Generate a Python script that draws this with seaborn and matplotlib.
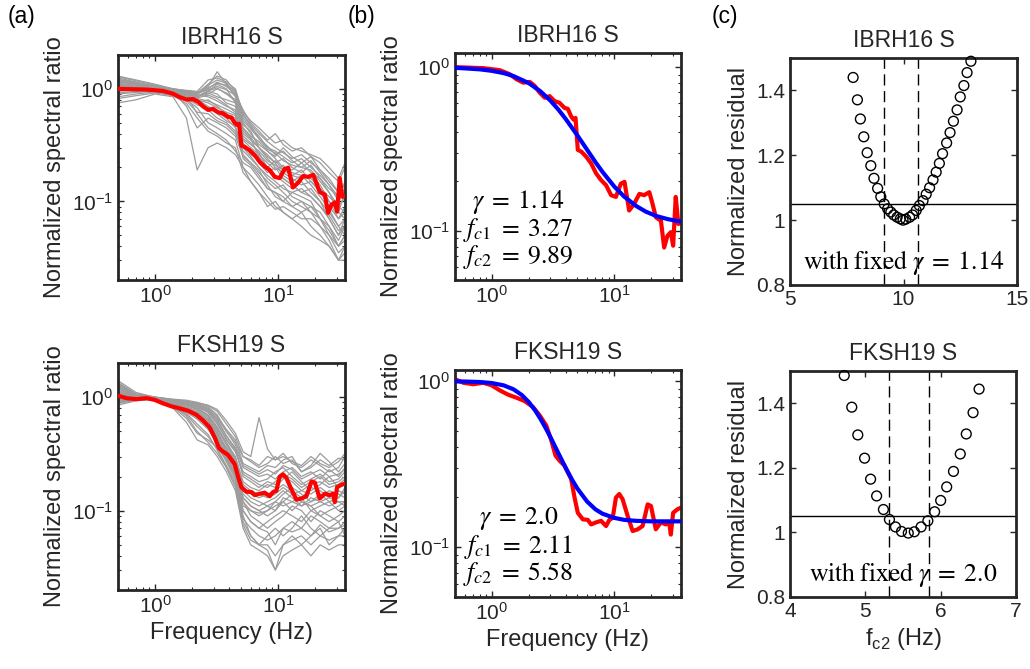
import numpy as np
import pandas as pd
import matplotlib
matplotlib.use("Agg")
import matplotlib.pyplot as plt
import seaborn as sns
from matplotlib.ticker import NullFormatter, LogLocator

sns.set_style("ticks")
plt.rcParams["font.family"] = ["Liberation Sans", "DejaVu Sans"]
plt.rcParams["mathtext.fontset"] = "dejavusans"
plt.rcParams["axes.unicode_minus"] = False

# ---------------- data ----------------
titles = ["IBRH16 S", "FKSH19 S"]
panel_labels = ["(a)", "(b)", "(c)"]

# common frequency grid of the individual (gray) spectral ratios
gray_freq = [0.5, 0.7, 1.0, 1.4, 1.8, 2.2, 2.7, 3.2, 3.8, 4.5, 5.2, 6.0, 7.0, 8.2,
             9.5, 11, 13, 15.5, 18.5, 22, 26, 31, 35]

gray_ibrh = [
    [1.25, 1.15, 1.05, 0.98, 0.95, 0.92, 1.10, 1.30, 1.20, 0.95, 0.55, 0.45, 0.38, 0.30, 0.28, 0.25, 0.22, 0.24, 0.20, 0.17, 0.14, 0.10, 0.12],
    [1.10, 1.05, 1.00, 0.95, 0.90, 0.85, 0.95, 0.90, 0.75, 0.70, 0.40, 0.35, 0.30, 0.26, 0.22, 0.24, 0.20, 0.18, 0.21, 0.16, 0.12, 0.08, 0.07],
    [0.95, 0.98, 0.97, 0.92, 0.85, 0.80, 0.70, 0.62, 0.55, 0.45, 0.30, 0.25, 0.20, 0.16, 0.14, 0.12, 0.10, 0.09, 0.08, 0.07, 0.05, 0.04, 0.05],
    [0.75, 0.80, 0.90, 0.85, 0.55, 0.19, 0.30, 0.33, 0.30, 0.26, 0.20, 0.15, 0.12, 0.09, 0.10, 0.08, 0.07, 0.06, 0.05, 0.045, 0.04, 0.03, 0.035],
    [1.30, 1.20, 1.10, 1.00, 0.96, 0.93, 1.00, 1.15, 1.05, 0.90, 0.65, 0.50, 0.42, 0.35, 0.40, 0.32, 0.28, 0.30, 0.25, 0.22, 0.18, 0.15, 0.20],
    [1.05, 1.02, 0.98, 0.93, 0.88, 0.60, 0.45, 0.40, 0.35, 0.28, 0.22, 0.20, 0.16, 0.13, 0.12, 0.10, 0.09, 0.10, 0.08, 0.06, 0.05, 0.035, 0.04],
    [1.15, 1.10, 1.03, 0.97, 0.92, 0.88, 0.85, 0.78, 0.70, 0.65, 0.35, 0.30, 0.26, 0.22, 0.19, 0.21, 0.17, 0.19, 0.15, 0.12, 0.09, 0.07, 0.09],
    [0.90, 0.93, 0.95, 0.90, 0.82, 0.75, 0.80, 0.70, 0.60, 0.55, 0.32, 0.28, 0.22, 0.18, 0.20, 0.16, 0.14, 0.12, 0.13, 0.10, 0.08, 0.06, 0.05],
    [1.20, 1.12, 1.04, 0.99, 0.94, 0.90, 1.05, 1.42, 1.10, 0.85, 0.50, 0.40, 0.32, 0.28, 0.25, 0.30, 0.25, 0.22, 0.18, 0.16, 0.13, 0.11, 0.15],
    [1.00, 1.00, 0.98, 0.94, 0.70, 0.45, 0.55, 0.50, 0.45, 0.38, 0.25, 0.22, 0.18, 0.15, 0.13, 0.14, 0.11, 0.10, 0.09, 0.08, 0.06, 0.045, 0.06],
    [1.08, 1.04, 0.99, 0.96, 0.90, 0.86, 0.90, 1.00, 0.92, 0.80, 0.45, 0.38, 0.34, 0.28, 0.24, 0.20, 0.19, 0.22, 0.25, 0.19, 0.15, 0.12, 0.10],
    [0.85, 0.90, 0.94, 0.88, 0.80, 0.68, 0.50, 0.45, 0.40, 0.35, 0.20, 0.17, 0.14, 0.11, 0.09, 0.08, 0.07, 0.08, 0.06, 0.05, 0.04, 0.03, 0.03],
    [1.18, 1.10, 1.02, 0.96, 0.91, 0.87, 0.92, 0.85, 0.80, 0.75, 0.48, 0.42, 0.30, 0.24, 0.20, 0.18, 0.16, 0.14, 0.15, 0.13, 0.11, 0.09, 0.08],
    [1.02, 1.00, 0.97, 0.92, 0.86, 0.80, 0.75, 0.68, 0.62, 0.58, 0.38, 0.33, 0.27, 0.20, 0.17, 0.15, 0.13, 0.15, 0.12, 0.10, 0.07, 0.05, 0.07],
    [1.12, 1.08, 1.01, 0.95, 0.90, 0.85, 0.95, 1.10, 1.00, 0.75, 0.42, 0.36, 0.25, 0.20, 0.23, 0.19, 0.17, 0.16, 0.17, 0.14, 0.10, 0.08, 0.12],
    [0.98, 0.97, 0.96, 0.91, 0.84, 0.78, 0.65, 0.55, 0.50, 0.42, 0.26, 0.22, 0.19, 0.14, 0.11, 0.10, 0.12, 0.11, 0.10, 0.07, 0.06, 0.04, 0.05],
    [1.22, 1.14, 1.06, 1.00, 0.97, 0.95, 1.20, 1.25, 1.15, 1.00, 0.60, 0.48, 0.40, 0.34, 0.30, 0.27, 0.24, 0.26, 0.22, 0.19, 0.16, 0.12, 0.14],
    [0.92, 0.95, 0.96, 0.89, 0.78, 0.62, 0.60, 0.52, 0.48, 0.40, 0.28, 0.24, 0.20, 0.17, 0.15, 0.13, 0.12, 0.13, 0.11, 0.09, 0.07, 0.05, 0.06],
    [1.28, 1.18, 1.08, 1.00, 0.95, 0.91, 0.98, 1.05, 0.98, 0.88, 0.52, 0.44, 0.36, 0.31, 0.26, 0.28, 0.23, 0.20, 0.23, 0.18, 0.14, 0.11, 0.13],
    [0.82, 0.87, 0.92, 0.87, 0.74, 0.55, 0.42, 0.38, 0.33, 0.30, 0.18, 0.15, 0.12, 0.10, 0.085, 0.09, 0.08, 0.07, 0.07, 0.06, 0.045, 0.03, 0.04],
    [1.06, 1.03, 0.99, 0.94, 0.89, 0.83, 0.88, 0.82, 0.72, 0.62, 0.36, 0.32, 0.28, 0.23, 0.21, 0.19, 0.18, 0.17, 0.16, 0.13, 0.10, 0.07, 0.08],
    [1.16, 1.09, 1.02, 0.97, 0.93, 0.89, 1.08, 1.20, 1.12, 0.92, 0.62, 0.52, 0.45, 0.38, 0.33, 0.35, 0.30, 0.28, 0.26, 0.24, 0.20, 0.16, 0.22],
    [0.97, 0.97, 0.96, 0.90, 0.83, 0.72, 0.68, 0.60, 0.52, 0.47, 0.24, 0.21, 0.17, 0.13, 0.12, 0.11, 0.09, 0.08, 0.09, 0.07, 0.055, 0.04, 0.045],
    [1.10, 1.06, 1.00, 0.95, 0.90, 0.86, 0.96, 1.02, 0.90, 0.78, 0.44, 0.37, 0.30, 0.25, 0.22, 0.17, 0.15, 0.17, 0.14, 0.11, 0.085, 0.06, 0.07],
    [1.03, 1.01, 0.98, 0.93, 0.87, 0.82, 0.78, 0.72, 0.66, 0.60, 0.33, 0.26, 0.23, 0.19, 0.16, 0.16, 0.14, 0.12, 0.11, 0.09, 0.075, 0.055, 0.06],
    [1.20, 1.13, 1.05, 0.98, 0.93, 0.90, 1.02, 1.12, 1.08, 0.96, 0.58, 0.47, 0.36, 0.29, 0.27, 0.23, 0.21, 0.20, 0.19, 0.15, 0.12, 0.09, 0.11],
]

gray_fksh = [
    [1.40, 1.10, 1.00, 0.95, 0.92, 0.88, 0.82, 0.70, 0.50, 0.40, 0.30, 0.28, 0.25, 0.30, 0.28, 0.32, 0.26, 0.24, 0.28, 0.25, 0.22, 0.24, 0.30],
    [1.20, 1.02, 0.98, 0.92, 0.88, 0.82, 0.75, 0.60, 0.42, 0.33, 0.22, 0.20, 0.18, 0.19, 0.22, 0.24, 0.20, 0.17, 0.19, 0.21, 0.18, 0.19, 0.22],
    [0.90, 0.95, 0.97, 0.85, 0.70, 0.55, 0.45, 0.35, 0.25, 0.18, 0.10, 0.08, 0.07, 0.08, 0.09, 0.10, 0.09, 0.08, 0.10, 0.09, 0.08, 0.09, 0.10],
    [0.85, 0.93, 0.96, 0.80, 0.60, 0.42, 0.38, 0.30, 0.22, 0.15, 0.07, 0.05, 0.045, 0.04, 0.03, 0.05, 0.06, 0.05, 0.06, 0.07, 0.05, 0.06, 0.07],
    [1.30, 1.05, 1.00, 0.96, 0.94, 0.90, 0.85, 0.78, 0.62, 0.48, 0.33, 0.30, 0.66, 0.35, 0.28, 0.30, 0.27, 0.25, 0.30, 0.26, 0.24, 0.27, 0.32],
    [1.05, 0.98, 0.96, 0.88, 0.80, 0.72, 0.62, 0.45, 0.33, 0.26, 0.14, 0.12, 0.11, 0.12, 0.13, 0.15, 0.13, 0.11, 0.12, 0.14, 0.12, 0.13, 0.15],
    [0.95, 0.96, 0.97, 0.90, 0.82, 0.76, 0.66, 0.50, 0.35, 0.24, 0.12, 0.09, 0.08, 0.07, 0.08, 0.09, 0.11, 0.10, 0.08, 0.10, 0.09, 0.08, 0.09],
    [1.15, 1.00, 0.98, 0.93, 0.86, 0.80, 0.70, 0.55, 0.40, 0.30, 0.18, 0.16, 0.15, 0.17, 0.16, 0.19, 0.22, 0.18, 0.15, 0.17, 0.20, 0.16, 0.18],
    [1.00, 0.97, 0.96, 0.86, 0.74, 0.64, 0.52, 0.40, 0.28, 0.20, 0.09, 0.06, 0.05, 0.06, 0.07, 0.06, 0.07, 0.09, 0.07, 0.06, 0.07, 0.08, 0.06],
    [1.25, 1.03, 0.99, 0.94, 0.90, 0.86, 0.80, 0.68, 0.52, 0.42, 0.26, 0.24, 0.22, 0.25, 0.24, 0.28, 0.30, 0.22, 0.25, 0.32, 0.27, 0.22, 0.26],
    [0.92, 0.95, 0.96, 0.84, 0.68, 0.50, 0.40, 0.32, 0.24, 0.17, 0.08, 0.06, 0.05, 0.045, 0.03, 0.04, 0.045, 0.05, 0.04, 0.05, 0.045, 0.05, 0.05],
    [1.10, 0.99, 0.97, 0.91, 0.84, 0.78, 0.68, 0.52, 0.38, 0.28, 0.16, 0.14, 0.13, 0.14, 0.15, 0.17, 0.15, 0.13, 0.16, 0.15, 0.13, 0.15, 0.14],
    [0.98, 0.96, 0.97, 0.89, 0.78, 0.70, 0.58, 0.42, 0.30, 0.22, 0.11, 0.10, 0.09, 0.10, 0.11, 0.12, 0.10, 0.12, 0.11, 0.09, 0.10, 0.11, 0.12],
    [1.35, 1.07, 1.00, 0.95, 0.91, 0.87, 0.78, 0.62, 0.45, 0.36, 0.24, 0.22, 0.20, 0.21, 0.19, 0.22, 0.24, 0.20, 0.22, 0.19, 0.23, 0.20, 0.24],
    [0.88, 0.94, 0.96, 0.82, 0.65, 0.48, 0.42, 0.36, 0.28, 0.21, 0.13, 0.11, 0.10, 0.09, 0.10, 0.13, 0.12, 0.11, 0.13, 0.12, 0.11, 0.12, 0.11],
    [1.08, 0.98, 0.97, 0.90, 0.80, 0.74, 0.64, 0.48, 0.36, 0.27, 0.15, 0.13, 0.12, 0.11, 0.12, 0.14, 0.16, 0.14, 0.12, 0.13, 0.15, 0.14, 0.13],
    [1.28, 1.04, 0.99, 0.94, 0.89, 0.84, 0.76, 0.64, 0.46, 0.35, 0.20, 0.18, 0.16, 0.18, 0.17, 0.20, 0.18, 0.15, 0.17, 0.18, 0.16, 0.17, 0.19],
    [0.96, 0.95, 0.96, 0.87, 0.76, 0.66, 0.54, 0.38, 0.27, 0.19, 0.085, 0.07, 0.06, 0.055, 0.06, 0.07, 0.08, 0.07, 0.09, 0.08, 0.07, 0.07, 0.08],
    [1.18, 1.01, 0.98, 0.93, 0.87, 0.82, 0.73, 0.58, 0.43, 0.34, 0.21, 0.19, 0.17, 0.16, 0.18, 0.21, 0.19, 0.16, 0.18, 0.20, 0.17, 0.18, 0.20],
    [1.02, 0.97, 0.97, 0.88, 0.79, 0.71, 0.60, 0.44, 0.31, 0.23, 0.12, 0.10, 0.095, 0.10, 0.12, 0.11, 0.12, 0.13, 0.10, 0.11, 0.12, 0.10, 0.11],
    [1.32, 1.06, 1.00, 0.95, 0.92, 0.89, 0.84, 0.75, 0.58, 0.45, 0.30, 0.27, 0.24, 0.26, 0.30, 0.26, 0.28, 0.22, 0.24, 0.28, 0.25, 0.29, 0.28],
    [0.93, 0.95, 0.96, 0.86, 0.72, 0.58, 0.47, 0.34, 0.24, 0.16, 0.075, 0.055, 0.05, 0.05, 0.04, 0.05, 0.055, 0.06, 0.05, 0.06, 0.055, 0.06, 0.06],
    [1.12, 1.00, 0.97, 0.92, 0.85, 0.79, 0.69, 0.53, 0.39, 0.29, 0.17, 0.15, 0.14, 0.13, 0.14, 0.16, 0.14, 0.15, 0.14, 0.16, 0.14, 0.13, 0.16],
    [1.06, 0.98, 0.97, 0.89, 0.81, 0.73, 0.63, 0.47, 0.34, 0.25, 0.13, 0.11, 0.10, 0.11, 0.10, 0.12, 0.14, 0.12, 0.11, 0.12, 0.13, 0.12, 0.12],
    [1.22, 1.02, 0.99, 0.93, 0.89, 0.85, 0.78, 0.66, 0.50, 0.38, 0.25, 0.23, 0.21, 0.23, 0.21, 0.25, 0.23, 0.19, 0.21, 0.23, 0.20, 0.21, 0.23],
    [0.98, 0.96, 0.96, 0.87, 0.77, 0.68, 0.56, 0.40, 0.29, 0.21, 0.10, 0.08, 0.07, 0.065, 0.05, 0.07, 0.065, 0.07, 0.06, 0.075, 0.065, 0.07, 0.075],
]

# mean (red) spectral ratios
red_ibrh_f = [0.50, 0.85, 1.16, 1.40, 1.59, 1.80, 2.04, 2.24, 2.46, 2.70, 2.96, 3.25, 3.57,
              3.92, 4.17, 4.44, 4.64, 4.82, 5.03, 5.36, 5.88, 6.46, 7.10, 7.79, 8.55, 9.40,
              10.3, 11.3, 12.1, 13.2, 14.5, 16.0, 17.5, 19.3, 20.5, 21.8, 24.0, 25.5, 27.1,
              28.9, 30.2, 31.7, 33.3, 35.0]
red_ibrh_v = [1.00, 0.986, 0.958, 0.905, 0.843, 0.804, 0.812, 0.767, 0.698, 0.650, 0.665,
              0.620, 0.605, 0.563, 0.556, 0.500, 0.478, 0.489, 0.312, 0.305, 0.284, 0.258,
              0.224, 0.204, 0.190, 0.165, 0.161, 0.194, 0.199, 0.133, 0.146, 0.168, 0.165,
              0.172, 0.146, 0.121, 0.115, 0.079, 0.093, 0.098, 0.081, 0.161, 0.110, 0.112]

red_fksh_f = [0.50, 0.585, 0.705, 0.85, 0.994, 1.16, 1.36, 1.59, 1.85, 2.17, 2.46, 2.78,
              3.06, 3.31, 3.57, 3.92, 4.17, 4.44, 4.73, 5.03, 5.53, 6.07, 6.46, 7.10, 7.79,
              8.55, 9.11, 9.69, 10.3, 10.98, 11.69, 12.84, 14.1, 15.5, 17.0, 18.7, 19.9,
              21.8, 24.0, 26.3, 28.0, 28.9, 30.2, 32.7, 35.0]
red_fksh_v = [1.03, 0.98, 0.96, 0.98, 0.946, 0.882, 0.830, 0.796, 0.760, 0.699, 0.622,
              0.541, 0.439, 0.356, 0.332, 0.310, 0.282, 0.257, 0.199, 0.161, 0.147, 0.146,
              0.137, 0.141, 0.144, 0.134, 0.146, 0.150, 0.199, 0.209, 0.194, 0.154, 0.125,
              0.128, 0.134, 0.181, 0.177, 0.128, 0.141, 0.137, 0.141, 0.119, 0.161, 0.169,
              0.173]

# fitted (blue) model curves
blue_ibrh_f = [0.5, 0.6, 0.8, 1.0, 1.25, 1.5, 2.0, 2.5, 3.0, 3.5, 4, 5, 6, 7, 8, 10, 12,
               15, 18, 22, 27, 32, 35]
blue_ibrh_v = [0.990, 0.983, 0.969, 0.949, 0.919, 0.882, 0.799, 0.710, 0.625, 0.549,
               0.483, 0.382, 0.312, 0.263, 0.229, 0.186, 0.162, 0.142, 0.131, 0.123,
               0.118, 0.115, 0.114]
blue_fksh_f = [0.5, 0.6, 0.8, 1.0, 1.25, 1.5, 1.75, 2.0, 2.25, 2.5, 2.75, 3.0, 3.5, 4,
               4.5, 5, 6, 7, 8, 10, 12, 15, 20, 27, 35]
blue_fksh_v = [0.998, 0.997, 0.990, 0.976, 0.945, 0.895, 0.828, 0.750, 0.669, 0.592,
               0.522, 0.462, 0.367, 0.301, 0.256, 0.225, 0.188, 0.169, 0.159, 0.150,
               0.146, 0.144, 0.143, 0.143, 0.143]

fit_text_ibrh = [r"$\gamma\;=\;1.14$", r"$f_{c1}\;=\;3.27$", r"$f_{c2}\;=\;9.89$"]
fit_text_fksh = [r"$\gamma\;=\;2.0$", r"$f_{c1}\;=\;2.11$", r"$f_{c2}\;=\;5.58$"]

# normalized residual vs fc2
res_ibrh_fc2 = [7.78, 7.97, 8.10, 8.25, 8.40, 8.56, 8.70, 8.86, 9.00, 9.15, 9.30, 9.44,
                9.57, 9.72, 9.86, 9.98, 10.10, 10.27, 10.40, 10.56, 10.70, 10.86, 11.00,
                11.15, 11.30, 11.44, 11.58, 11.72, 11.90, 12.05, 12.20, 12.36, 12.50,
                12.66, 12.80, 12.97]
res_ibrh = [1.440, 1.371, 1.312, 1.257, 1.208, 1.168, 1.129, 1.098, 1.072, 1.050, 1.035,
            1.025, 1.016, 1.009, 1.004, 1.000, 1.003, 1.009, 1.016, 1.030, 1.045, 1.060,
            1.080, 1.100, 1.124, 1.148, 1.175, 1.205, 1.238, 1.270, 1.305, 1.340, 1.380,
            1.415, 1.455, 1.490]
res_fksh_fc2 = [4.72, 4.82, 4.90, 4.99, 5.07, 5.15, 5.24, 5.32, 5.40, 5.48, 5.57, 5.65,
                5.74, 5.83, 5.92, 6.00, 6.08, 6.17, 6.26, 6.34, 6.43, 6.51]
res_fksh = [1.486, 1.388, 1.302, 1.230, 1.165, 1.113, 1.071, 1.040, 1.017, 1.003, 0.998,
            1.002, 1.017, 1.036, 1.064, 1.099, 1.141, 1.189, 1.243, 1.305, 1.371, 1.444]
res_threshold = 1.05
bounds_ibrh = [9.14, 10.63]
bounds_fksh = [5.32, 5.84]
fixed_text = [r"$\mathrm{with\;fixed}\;\gamma\;=\;1.14$",
              r"$\mathrm{with\;fixed}\;\gamma\;=\;2.0$"]

# ---------------- figure ----------------
W, H = 1030, 669
fig = plt.figure(figsize=(W / 100, H / 100), dpi=100)


def add_ax(l, t, r, b):
    return fig.add_axes([l / W, 1 - b / H, (r - l) / W, (b - t) / H])


ax_a = [add_ax(118, 55, 345, 280), add_ax(118, 363, 345, 590)]
ax_b = [add_ax(455, 53, 681, 280), add_ax(455, 370, 681, 597)]
ax_c = [add_ax(790, 58, 1017, 285), add_ax(790, 371, 1016, 597)]

dark = "#262626"
LAB = 17
TICK = 15


def style(ax):
    for s in ax.spines.values():
        s.set_linewidth(2.0)
        s.set_color(dark)
        s.set_visible(True)
    ax.tick_params(which="both", direction="in", top=True, right=True,
                   colors=dark, labelsize=TICK, labelcolor=dark)
    ax.tick_params(which="major", length=4.5, width=1.0)
    ax.tick_params(which="minor", length=2.5, width=0.8)


def logaxes(ax):
    ax.set_xscale("log")
    ax.set_yscale("log")
    for axis in (ax.xaxis, ax.yaxis):
        axis.set_major_locator(LogLocator(base=10, numticks=10))
        axis.set_minor_locator(LogLocator(base=10, subs=np.arange(2, 10), numticks=10))
        axis.set_minor_formatter(NullFormatter())


gray_sets = [gray_ibrh, gray_fksh]
reds = [(red_ibrh_f, red_ibrh_v), (red_fksh_f, red_fksh_v)]
blues = [(blue_ibrh_f, blue_ibrh_v), (blue_fksh_f, blue_fksh_v)]
fit_texts = [fit_text_ibrh, fit_text_fksh]
b_ylims = [(0.05, 1.22), (0.05, 1.17)]

for i in range(2):
    # ---- (a)
    ax = ax_a[i]
    logaxes(ax)
    rows = []
    for k, curve in enumerate(gray_sets[i]):
        for f, v in zip(gray_freq, curve):
            rows.append({"curve": k, "f": f, "v": v})
    gdf = pd.DataFrame(rows)
    sns.lineplot(data=gdf, x="f", y="v", units="curve", estimator=None,
                 color="#9c9c9c", linewidth=0.9, ax=ax, legend=False)
    sns.lineplot(x=reds[i][0], y=reds[i][1], color="#ff0000", linewidth=3.0,
                 ax=ax, legend=False, zorder=5)
    ax.set_xlim(0.5, 35)
    ax.set_ylim(0.02, 2)
    ax.set_title(titles[i], fontsize=16.5, pad=8)
    ax.set_ylabel("Normalized spectral ratio", fontsize=LAB)
    ax.set_xlabel("Frequency (Hz)" if i == 1 else "", fontsize=LAB)
    style(ax)

    # ---- (b)
    ax = ax_b[i]
    logaxes(ax)
    sns.lineplot(x=reds[i][0], y=reds[i][1], color="#ff0000", linewidth=3.0,
                 ax=ax, legend=False)
    sns.lineplot(x=blues[i][0], y=blues[i][1], color="#0000ff", linewidth=3.0,
                 ax=ax, legend=False, zorder=5)
    ax.set_xlim(0.5, 35)
    ax.set_ylim(*b_ylims[i])
    ax.set_title(titles[i], fontsize=16.5, pad=8)
    ax.set_ylabel("Normalized spectral ratio", fontsize=LAB)
    ax.set_xlabel("Frequency (Hz)" if i == 1 else "", fontsize=LAB)
    for txt, yy in zip(fit_texts[i], [0.345, 0.22, 0.10]):
        ax.text(0.28, yy, txt, transform=ax.transAxes, ha="center", va="center",
                fontsize=18.5, math_fontfamily="stix", color="black")
    style(ax)

res_x = [res_ibrh_fc2, res_fksh_fc2]
res_y = [res_ibrh, res_fksh]
bounds = [bounds_ibrh, bounds_fksh]
c_xlims = [(5, 15), (4, 7)]
c_xticks = [[5, 10, 15], [4, 5, 6, 7]]
for i in range(2):
    ax = ax_c[i]
    ax.axhline(res_threshold, color="black", linewidth=1.0, zorder=2)
    for xb in bounds[i]:
        ax.axvline(xb, color="black", linewidth=1.0, linestyle=(0, (8, 4)), zorder=2)
    sns.scatterplot(x=res_x[i], y=res_y[i], ax=ax, marker="o", s=50,
                    color="black", facecolor="none", edgecolor="black",
                    linewidth=1.0, zorder=3, legend=False, clip_on=False)
    ax.set_xlim(*c_xlims[i])
    ax.set_ylim(0.8, 1.5)
    ax.set_xticks(c_xticks[i])
    ax.set_yticks([0.8, 1.0, 1.2, 1.4], labels=["0.8", "1", "1.2", "1.4"])
    ax.set_title(titles[i], fontsize=16.5, pad=8)
    ax.set_ylabel("Normalized residual", fontsize=LAB)
    ax.set_xlabel(r"f$_{\mathdefault{c2}}$ (Hz)" if i == 1 else "", fontsize=LAB)
    ax.text(0.5, 0.1, fixed_text[i], transform=ax.transAxes, ha="center",
            va="center", fontsize=18.5, math_fontfamily="stix", color="black")
    style(ax)
    ax.minorticks_off()

for lbl, x in zip(panel_labels, [8, 348, 712]):
    fig.text(x / W, 1 - 16 / H, lbl, fontsize=16.5, ha="left", va="center", color="black")

fig.savefig("out.png", dpi=100)
